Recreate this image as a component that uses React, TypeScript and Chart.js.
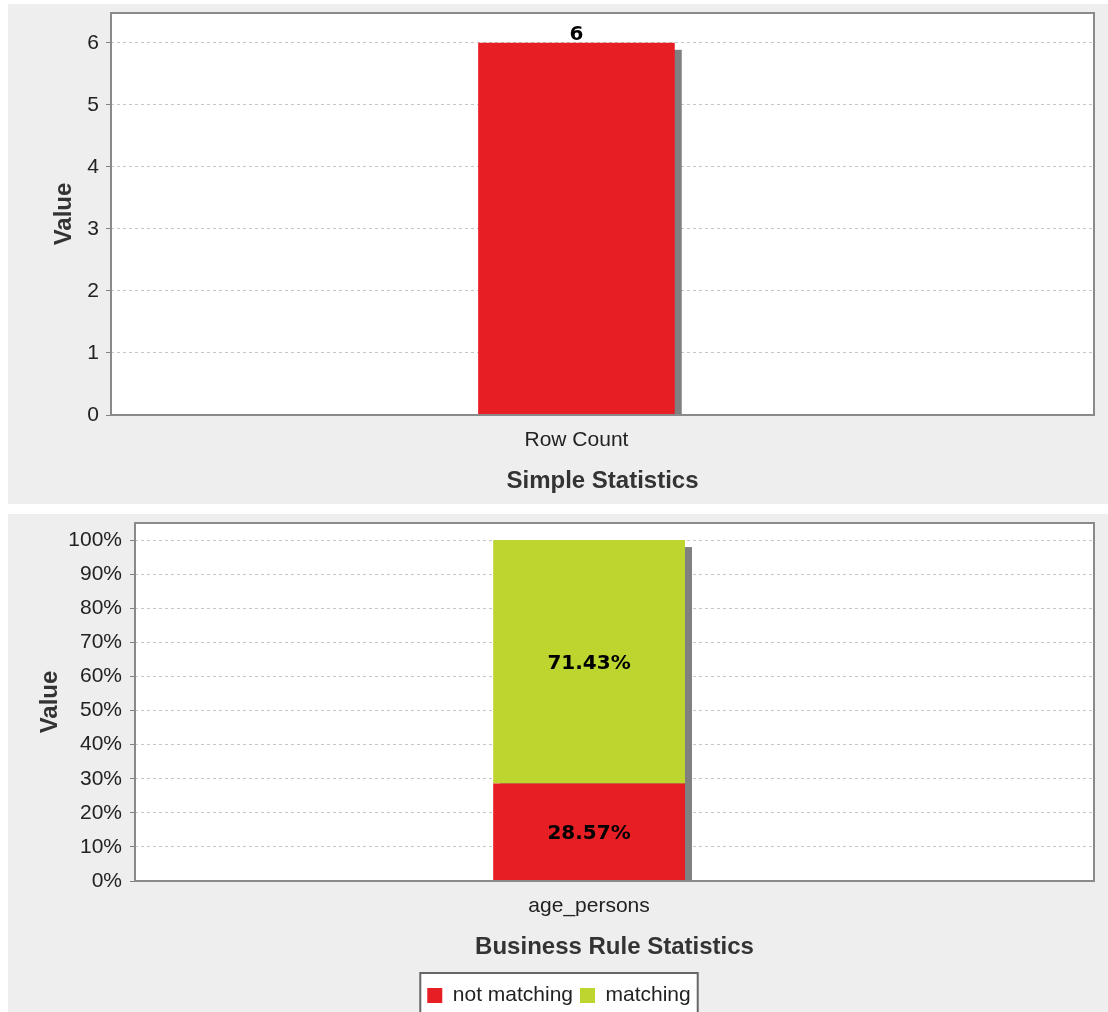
import React, { useEffect, useRef } from 'react';
import { Chart, registerables } from 'chart.js';

Chart.register(...registerables);

// ---------- data ----------
const simpleCategories = ['Row Count'];
const simpleValues = [6];
const simpleYMax = 6.48;
const simpleYStep = 1;

const ruleCategories = ['age_persons'];
const notMatchingValues = [28.57];
const matchingValues = [71.43];
const ruleYMax = 105;
const ruleYStep = 10;

const seriesNames = ['not matching', 'matching'];
const simpleSeriesName = 'Row Count';

// category axis range starts slightly after the first category (as in the original plot)
const CATEGORY_AXIS_SHIFT = 0.0265;

const RED = '#e81e25';
const GREEN = '#bed530';
const FONT = '"Liberation Sans", Arial, sans-serif';
const LABEL_FONT = '"DejaVu Sans", Verdana, sans-serif';

const decorPlugin = {
  id: 'decor',
  beforeDraw(chart: any) {
    const { ctx, chartArea: a } = chart;
    ctx.save();
    ctx.fillStyle = '#ffffff';
    ctx.fillRect(a.left, a.top, a.right - a.left, a.bottom - a.top);
    const lg = chart.legend;
    if (lg && lg.options && lg.options.display && lg.legendHitBoxes && lg.legendHitBoxes.length) {
      const hb = lg.legendHitBoxes;
      const l = Math.min(...hb.map((h: any) => h.left)) - 7;
      const r = Math.max(...hb.map((h: any) => h.left + h.width)) + 7;
      const t = Math.min(...hb.map((h: any) => h.top)) - 12;
      const b = Math.max(...hb.map((h: any) => h.top + h.height)) + 12;
      ctx.fillStyle = '#ffffff';
      ctx.fillRect(l, t, r - l, b - t);
      ctx.strokeStyle = '#666666';
      ctx.lineWidth = 2;
      ctx.strokeRect(l, t, r - l, b - t);
    }
    ctx.restore();
  },
  beforeDatasetsDraw(chart: any) {
    const { ctx, chartArea: a } = chart;
    const n = chart.data.labels.length;
    ctx.save();
    ctx.beginPath();
    ctx.rect(a.left, a.top, a.right - a.left, a.bottom - a.top);
    ctx.clip();
    ctx.fillStyle = '#808080';
    for (let idx = 0; idx < n; idx++) {
      let l = Infinity, r = -Infinity, t = Infinity, b = -Infinity;
      chart.data.datasets.forEach((_ds: any, i: number) => {
        const el = chart.getDatasetMeta(i).data[idx];
        if (!el) return;
        const p = el.getProps(['x', 'y', 'base', 'width'], true);
        l = Math.min(l, p.x - p.width / 2);
        r = Math.max(r, p.x + p.width / 2);
        t = Math.min(t, p.y, p.base);
        b = Math.max(b, p.y, p.base);
      });
      if (isFinite(l)) ctx.fillRect(l + 7, t + 7, r - l, b - t);
    }
    ctx.restore();
  },
  afterDatasetsDraw(chart: any, _args: any, opts: any) {
    const { ctx, chartArea: a } = chart;
    ctx.save();
    ctx.strokeStyle = '#8a8a8a';
    ctx.lineWidth = 2;
    ctx.strokeRect(a.left, a.top, a.right - a.left, a.bottom - a.top);
    ctx.fillStyle = '#000000';
    ctx.font = `bold 20px ${LABEL_FONT}`;
    ctx.textAlign = 'center';
    chart.data.datasets.forEach((ds: any, i: number) => {
      chart.getDatasetMeta(i).data.forEach((el: any, j: number) => {
        const v = ds.data[j];
        const p = el.getProps(['x', 'y', 'base'], true);
        if (opts.mode === 'center') {
          ctx.textBaseline = 'middle';
          ctx.fillText(v.toFixed(opts.decimals) + opts.suffix, p.x, (p.y + p.base) / 2 + 2);
        } else {
          ctx.textBaseline = 'alphabetic';
          ctx.fillText(String(v) + opts.suffix, p.x, p.y - 3);
        }
      });
    });
    ctx.restore();
  },
};

function ChartCanvas({ config, width, height }: { config: any; width: number; height: number }) {
  const ref = useRef<HTMLCanvasElement | null>(null);
  useEffect(() => {
    if (!ref.current) return;
    const chart = new Chart(ref.current, config);
    return () => chart.destroy();
  }, []);
  return <canvas ref={ref} width={width} height={height} style={{ display: 'block', width, height }} />;
}

const tickFont = { family: FONT, size: 21 };
const titleFont = { family: FONT, size: 24, weight: 'bold' as const };

function yAxis(max: number, step: number, width: number, titlePad: number, tickPad: number, suffix: string) {
  return {
    min: 0,
    max,
    ticks: {
      stepSize: step,
      includeBounds: false,
      font: tickFont,
      color: '#222222',
      padding: tickPad,
      callback: (v: any) => `${v}${suffix}`,
    },
    grid: {
      color: '#c6c6c6',
      lineWidth: 1,
      tickColor: '#808080',
      tickLength: 5,
      tickBorderDash: [],
      tickWidth: 1,
    },
    border: { display: false, dash: [3, 3] },
    title: { display: true, text: 'Value', font: titleFont, color: '#333333', padding: { top: titlePad, bottom: 0 } },
    afterFit: (s: any) => {
      s.width = width;
      s.paddingTop = 0;
      s.paddingBottom = 0;
    },
  };
}

function xAxis(title: string, height: number, titleBottom: number) {
  return {
    grid: { display: false },
    border: { display: false },
    ticks: { font: tickFont, color: '#222222', padding: 5, maxRotation: 0 },
    title: { display: true, text: title, font: titleFont, color: '#333333', padding: { top: 0, bottom: titleBottom } },
    afterDataLimits: (s: any) => {
      s.min = s.min + CATEGORY_AXIS_SHIFT;
      s.max = s.max + CATEGORY_AXIS_SHIFT;
    },
    afterBuildTicks: (s: any) => {
      s.ticks = s.ticks.map((t: any) => ({ value: Math.round(t.value - CATEGORY_AXIS_SHIFT) }));
    },
    afterFit: (s: any) => {
      s.height = height;
      s.paddingLeft = 0;
      s.paddingRight = 0;
    },
  };
}

const simpleConfig = {
  type: 'bar',
  data: {
    labels: simpleCategories,
    datasets: [
      {
        label: simpleSeriesName,
        data: simpleValues,
        backgroundColor: RED,
        borderWidth: 0,
        barPercentage: 0.2,
        categoryPercentage: 1,
      },
    ],
  },
  options: {
    animation: false,
    responsive: false,
    layout: { padding: { top: 9, right: 14, left: 0, bottom: 0 } },
    plugins: {
      legend: { display: false },
      tooltip: { enabled: false },
      decor: { mode: 'top', decimals: 0, suffix: '' },
    },
    scales: {
      x: xAxis('Simple Statistics', 89, 8.6),
      y: yAxis(simpleYMax, simpleYStep, 103, 42, 7, ''),
    },
  },
  plugins: [decorPlugin],
};

const ruleConfig = {
  type: 'bar',
  data: {
    labels: ruleCategories,
    datasets: [
      {
        label: seriesNames[0],
        data: notMatchingValues,
        backgroundColor: RED,
        borderWidth: 0,
        barPercentage: 0.2,
        categoryPercentage: 1,
      },
      {
        label: seriesNames[1],
        data: matchingValues,
        backgroundColor: GREEN,
        borderWidth: 0,
        barPercentage: 0.2,
        categoryPercentage: 1,
      },
    ],
  },
  options: {
    animation: false,
    responsive: false,
    layout: { padding: { top: 9, right: 14, left: 16, bottom: 0 } },
    plugins: {
      legend: {
        display: true,
        position: 'bottom',
        labels: {
          font: { family: FONT, size: 21 },
          color: '#222222',
          boxWidth: 15,
          boxHeight: 15,
          padding: 7,
        },
      },
      tooltip: { enabled: false },
      decor: { mode: 'center', decimals: 2, suffix: '%' },
    },
    scales: {
      x: { ...xAxis('Business Rule Statistics', 97, 16.6), stacked: true },
      y: { ...yAxis(ruleYMax, ruleYStep, 111, 11.6, 8, '%'), stacked: true },
    },
  },
  plugins: [decorPlugin],
};

export default function App() {
  return (
    <div
      style={{
        position: 'absolute',
        left: 0,
        top: 0,
        width: 1108,
        height: 1012,
        overflow: 'hidden',
        background: '#ffffff',
      }}
    >
      <div style={{ position: 'absolute', left: 8, top: 4, width: 1100, height: 500, background: '#eeeeee' }}>
        <ChartCanvas config={simpleConfig} width={1100} height={500} />
      </div>
      <div
        style={{
          position: 'absolute',
          left: 8,
          top: 514,
          width: 1100,
          height: 498,
          background: '#eeeeee',
          overflow: 'hidden',
        }}
      >
        <ChartCanvas config={ruleConfig} width={1100} height={502} />
      </div>
    </div>
  );
}
